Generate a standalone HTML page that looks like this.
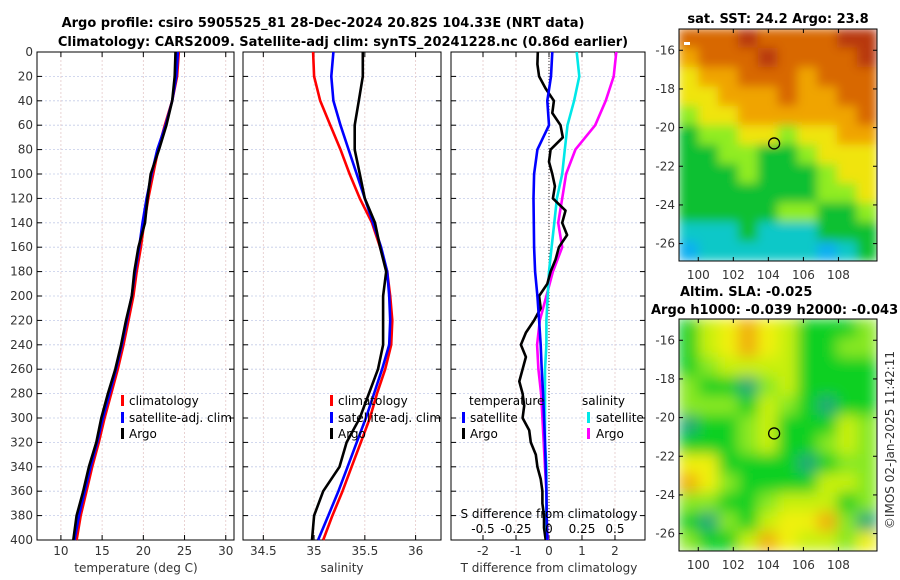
<!DOCTYPE html>
<html><head><meta charset="utf-8"><style>
html,body{margin:0;padding:0;background:#fff;}
svg{display:block;font-family:"DejaVu Sans","Liberation Sans",sans-serif;}
</style></head><body>
<svg id="chart" width="900" height="580" viewBox="0 0 900 580">
<defs>
<filter id="blur1" x="0" y="0" width="1" height="1"><feGaussianBlur stdDeviation="5"/></filter>
<filter id="blur2" x="0" y="0" width="1" height="1"><feGaussianBlur stdDeviation="7"/></filter>
<clipPath id="clipMap1"><rect x="679" y="29" width="198" height="232"/></clipPath>
<clipPath id="clipMap2"><rect x="679" y="319" width="198" height="232"/></clipPath>
</defs>
<text x="323" y="27" text-anchor="middle" font-size="13" font-weight="bold">Argo profile: csiro 5905525_81 28-Dec-2024 20.82S 104.33E (NRT data)</text>
<text x="343" y="46" text-anchor="middle" font-size="13" font-weight="bold">Climatology: CARS2009. Satellite-adj clim: synTS_20241228.nc (0.86d earlier)</text>
<g id="plots"></g>
</svg>
<script>
// ---- data ----
const depths = [0,20,40,60,80,100,120,140,160,180,200,220,240,260,280,300,320,340,360,380,400];
const depthTicks = [0,20,40,60,80,100,120,140,160,180,200,220,240,260,280,300,320,340,360,380,400];
const tClim = [24.3,24.1,23.5,22.6,21.8,21.2,20.6,20.1,19.7,19.2,18.8,18.2,17.6,16.9,16.1,15.3,14.6,13.8,13.1,12.4,11.9];
const tSat  = [24.2,24.0,23.5,22.7,21.7,21.0,20.4,19.9,19.5,19.0,18.6,18.0,17.4,16.7,15.9,15.1,14.4,13.6,12.9,12.2,11.65];
const tArgo = [23.9,23.8,23.5,22.8,21.9,20.9,20.5,20.2,19.4,18.9,18.6,17.9,17.3,16.6,15.7,14.9,14.3,13.4,12.7,11.9,11.5];
const sClim = [34.99,35.0,35.06,35.16,35.26,35.35,35.45,35.57,35.65,35.72,35.75,35.77,35.76,35.7,35.62,35.55,35.46,35.37,35.28,35.18,35.09];
const sSat  = [35.19,35.17,35.19,35.26,35.34,35.42,35.5,35.58,35.66,35.72,35.74,35.75,35.74,35.67,35.59,35.51,35.42,35.33,35.24,35.14,35.04];
const sArgo = [35.48,35.48,35.44,35.4,35.4,35.45,35.5,35.6,35.65,35.71,35.68,35.68,35.68,35.63,35.54,35.45,35.32,35.25,35.09,35.0,34.98];
const dTSat  = [0.1,0.06,-0.05,0,-0.35,-0.45,-0.47,-0.46,-0.45,-0.42,-0.35,-0.3,-0.25,-0.22,-0.18,-0.15,-0.12,-0.1,-0.08,-0.07,-0.05];
const dSSat  = [0.21,0.23,0.19,0.14,0.12,0.1,0.06,0.04,0.02,0.0,-0.01,-0.02,-0.02,-0.03,-0.03,-0.03,-0.03,-0.02,-0.02,-0.02,-0.02];
const dSArgo = [0.51,0.49,0.43,0.35,0.2,0.13,0.1,0.07,0.1,0.03,-0.02,-0.07,-0.09,-0.08,-0.06,-0.05,-0.04,-0.03,-0.02,-0.02,-0.01];
const depthsFine = [0,10,20,30,40,50,60,70,80,90,100,110,120,130,140,150,160,170,180,190,200,210,220,230,240,250,260,270,280,290,300,310,320,330,340,350,360,370,380,390,400];
const dTArgo = [-0.34,-0.35,-0.3,-0.1,0.15,0.1,0.35,0.42,0.05,0.0,0.1,0.18,0.12,0.5,0.4,0.55,0.3,0.2,0.05,-0.05,-0.3,-0.25,-0.45,-0.7,-0.85,-0.7,-0.8,-0.9,-0.8,-0.75,-0.8,-0.6,-0.55,-0.4,-0.35,-0.25,-0.2,-0.2,-0.15,-0.15,-0.1];
const tTicks = [10,15,20,25,30];
const sTicks = [34.5,35,35.5,36];
const dTTicks = [-2,-1,0,1,2];
const dSTicks = [-0.5,-0.25,0,0.25,0.5];
const dSTickLabels = ["-0.5","-0.25","0","0.25","0.5"];
const lonTicks = [100,102,104,106,108];
const latTicks = [-16,-18,-20,-22,-24,-26];
const sstGrid = [
[5,5,5,6,5,5,5,5,6,6],
[4,5,5,5,6,5,5,5,5,6],
[3,4,4,5,5,5,4,5,5,5],
[3,3,4,4,4,5,4,4,5,5],
[2,3,3,4,4,4,4,4,4,5],
[1,2,2,3,3,2,3,3,4,4],
[1,1,2,2,1,1,2,3,3,3],
[1,1,1,2,1,1,1,2,3,3],
[1,1,1,1,1,1,1,2,2,3],
[1,1,1,1,1,2,2,1,1,2],
[0,0,0,1,0,0,0,1,1,1],
[-1,0,0,0,0,0,0,-1,0,1]];
const slaGrid = [
[1,3,4,5,4,3,1,1,1,2],
[1,3,4,5,4,3,1,1,2,2],
[1,2,3,3,3,3,1,1,1,1],
[2,1,1,0,2,3,1,1,1,1],
[2,2,2,1,3,2,1,0,1,1],
[0,1,1,2,3,1,1,1,3,2],
[1,1,1,2,3,1,1,2,3,2],
[4,4,1,1,1,1,0,1,2,2],
[5,4,2,1,1,1,1,3,3,2],
[2,2,1,1,2,3,3,3,1,2],
[1,0,2,1,3,4,4,5,2,0],
[2,1,1,3,5,4,3,3,2,4]];
const argoLon = 104.33, argoLat = -20.82;

const NS = "http://www.w3.org/2000/svg";
const root = document.getElementById("plots");
function el(tag, attrs, parent){const e=document.createElementNS(NS,tag);for(const k in attrs)e.setAttribute(k,attrs[k]);(parent||root).appendChild(e);return e;}

const Y0=52, Y1=540;
const yD = d => Y0 + (d/400)*(Y1-Y0);
function lin(d0,d1,r0,r1){return v=>r0+(v-d0)/(d1-d0)*(r1-r0);}

function panel(name,x0,x1,xf,xticks,xlabels,showY){
  const g=el("g",{});
  
  
  depthTicks.forEach(d=>{const l=el("line",{x1:x0,x2:x1,y1:yD(d),y2:yD(d),stroke:"#c4cce8","stroke-width":0.8,"stroke-dasharray":"2,2"},g);
    
    });
  xticks.forEach((v,i)=>{const x=xf(v);
    const l=el("line",{x1:x,x2:x,y1:Y0,y2:Y1,stroke:"#e4c8c8","stroke-width":0.8,"stroke-dasharray":"2,2"},g);
    
    
    el("line",{x1:x,x2:x,y1:Y1,y2:Y1-5,stroke:"#000"},g);
    el("line",{x1:x,x2:x,y1:Y0,y2:Y0+5,stroke:"#000"},g);
    const t=el("text",{x:x,y:555,"text-anchor":"middle","font-size":12,fill:"#333"},g);t.textContent=xlabels[i];
    
    
  });
  depthTicks.forEach(d=>{
    el("line",{x1:x0,x2:x0+5,y1:yD(d),y2:yD(d),stroke:"#000"},g);
    el("line",{x1:x1,x2:x1-5,y1:yD(d),y2:yD(d),stroke:"#000"},g);
    if(showY){const t=el("text",{x:x0-4,y:yD(d)+4,"text-anchor":"end","font-size":12,fill:"#333"},g);t.textContent=d;
      
      }
  });
  const fr=el("rect",{x:x0,y:Y0,width:x1-x0,height:Y1-Y0,fill:"none",stroke:"#000","stroke-width":1},g);
  
  
  return g;
}
function line(g,name,xs,ds,xf,color){
  const pts=xs.map((v,i)=>xf(v).toFixed(1)+","+yD(ds[i]).toFixed(1)).join(" ");
  const p=el("polyline",{points:pts,fill:"none",stroke:color,"stroke-width":2.6,"stroke-linejoin":"round"},g);
  
  
}
function txt(g,name,x,y,s,opts){const t=el("text",Object.assign({x:x,y:y,"font-size":12,fill:"#000"},opts||{}),g);t.textContent=s;
  
  return t;}
function legMark(g,name,x,y,color){const r=el("rect",{x:x,y:y-10,width:3,height:11,fill:color},g);
  
  }

const xT=lin(7.1,31,37,234);
const g1=panel("temperature-panel",37,234,xT,tTicks,tTicks.map(String),true);
line(g1,"temp-climatology-line",tClim,depths,xT,"#ff0000");
line(g1,"temp-satellite-line",tSat,depths,xT,"#0000ff");
line(g1,"temp-argo-line",tArgo,depths,xT,"#000000");
txt(g1,"temp-x-axis-title",136,572,"temperature (deg C)",{"text-anchor":"middle",fill:"#333"});
legMark(g1,"legend-mark-climatology",121,405,"#ff0000");txt(g1,"legend-climatology",129,405,"climatology");
legMark(g1,"legend-mark-satellite",121,422,"#0000ff");txt(g1,"legend-satellite",129,422,"satellite-adj. clim");
legMark(g1,"legend-mark-argo",121,438,"#000");txt(g1,"legend-argo",129,438,"Argo");

const xS=lin(34.3,36.25,243,441);
const g2=panel("salinity-panel",243,441,xS,sTicks,sTicks.map(String),false);
line(g2,"sal-climatology-line",sClim,depths,xS,"#ff0000");
line(g2,"sal-satellite-line",sSat,depths,xS,"#0000ff");
line(g2,"sal-argo-line",sArgo,depths,xS,"#000000");
txt(g2,"sal-x-axis-title",342,572,"salinity",{"text-anchor":"middle",fill:"#333"});
legMark(g2,"legend-mark-climatology-2",330,405,"#ff0000");txt(g2,"legend-climatology-2",338,405,"climatology");
legMark(g2,"legend-mark-satellite-2",330,422,"#0000ff");txt(g2,"legend-satellite-2",338,422,"satellite-adj. clim");
legMark(g2,"legend-mark-argo-2",330,438,"#000");txt(g2,"legend-argo-2",338,438,"Argo");

const xDT=lin(-2.97,2.91,451,645);
const xDS=v=>xDT(v*4);
const g3=panel("difference-panel",451,645,xDT,dTTicks,dTTicks.map(String),false);
const zl=el("line",{x1:xDT(0),x2:xDT(0),y1:Y0,y2:Y1,stroke:"#333","stroke-width":1,"stroke-dasharray":"1,2"},g3);


line(g3,"dS-argo-line",dSArgo,depths,xDS,"#ff00ff");
line(g3,"dS-satellite-line",dSSat,depths,xDS,"#00e8e8");
line(g3,"dT-argo-line",dTArgo,depthsFine,xDT,"#000000");
line(g3,"dT-satellite-line",dTSat,depths,xDT,"#0000ff");
txt(g3,"dT-x-axis-title",549,572,"T difference from climatology",{"text-anchor":"middle",fill:"#333"});
txt(g3,"dS-axis-title",549,518,"S difference from climatology",{"text-anchor":"middle",fill:"#000"});
dSTicks.forEach((v,i)=>txt(g3,"dS-tick-label",xDS(v),533,dSTickLabels[i],{"text-anchor":"middle",fill:"#000"}));
txt(g3,"legend-temperature-heading",469,405,"temperature");
legMark(g3,"legend-mark-t-satellite",462,422,"#0000ff");txt(g3,"legend-t-satellite",470,422,"satellite");
legMark(g3,"legend-mark-t-argo",462,438,"#000");txt(g3,"legend-t-argo",470,438,"Argo");
txt(g3,"legend-salinity-heading",582,405,"salinity");
legMark(g3,"legend-mark-s-satellite",587,422,"#00e8e8");txt(g3,"legend-s-satellite",596,422,"satellite");
legMark(g3,"legend-mark-s-argo",587,438,"#ff00ff");txt(g3,"legend-s-argo",596,438,"Argo");

const sstColors={"-1":"#10b0f0","0":"#10c8c8","1":"#10c030","2":"#90ec20","3":"#f0e410","4":"#f0a400","5":"#d86800","6":"#b83808"};
const slaColors={"0":"#20a878","1":"#10d020","2":"#88e820","3":"#c8f010","4":"#f0f010","5":"#f0b010"};
function map(name,top,grid,colors,blurId,clipId){
  const g=el("g",{});
  
  
  const xL=lin(98.9,110.2,679,877), yL=lin(-14.9,-26.9,top,top+232);
  const cg=el("g",{"clip-path":"url(#"+clipId+")"},g);
  const ig=el("g",{filter:"url(#"+blurId+")"},cg);
  const rows=grid.length, cols=grid[0].length, cw=198/cols, ch=232/rows;
  el("rect",{x:679,y:top,width:198,height:232,fill:colors["1"]},ig);
  grid.forEach((row,r)=>row.forEach((v,c)=>{
    const cell=el("rect",{x:679+c*cw-0.5,y:top+r*ch-0.5,width:cw+1,height:ch+1,fill:colors[String(v)]},ig);
    
    
  }));
  const fr=el("rect",{x:679,y:top,width:198,height:232,fill:"none",stroke:"#000"},g);
  
  
  lonTicks.forEach(v=>{const x=xL(v);el("line",{x1:x,x2:x,y1:top+232,y2:top+228,stroke:"#000"},g);el("line",{x1:x,x2:x,y1:top,y2:top+4,stroke:"#000"},g);
    txt(g,"lon-tick-label",x,top+250,String(v),{"text-anchor":"middle",fill:"#333"});});
  latTicks.forEach(v=>{const y=yL(v);el("line",{x1:679,x2:683,y1:y,y2:y,stroke:"#000"},g);el("line",{x1:877,x2:873,y1:y,y2:y,stroke:"#000"},g);
    txt(g,"lat-tick-label",675,y+4,String(v),{"text-anchor":"end",fill:"#333"});});
  const c=el("circle",{cx:xL(argoLon),cy:yL(argoLat),r:5.5,fill:"none",stroke:"#000","stroke-width":1.3},g);
  
  
  return g;
}
const m1=map("sst-map",29,sstGrid,sstColors,"blur1","clipMap1");
const wb=el("rect",{x:684,y:42,width:6,height:3,fill:"#fff"},m1);
txt(m1,"sst-map-title",778,23,"sat. SST: 24.2 Argo: 23.8",{"text-anchor":"middle","font-weight":"bold","font-size":13});
const m2=map("sla-map",319,slaGrid,slaColors,"blur2","clipMap2");
txt(m2,"sla-map-title",680,296,"Altim. SLA: -0.025",{"font-weight":"bold","font-size":13});
txt(m2,"sla-map-subtitle",651,314,"Argo h1000: -0.039 h2000: -0.043",{"font-weight":"bold","font-size":13});
const im=txt(root,"imos-timestamp",0,0,"\u00a9IMOS 02-Jan-2025 11:42:11",{"text-anchor":"middle",fill:"#333","transform":"translate(894,440) rotate(-90)"});
</script>
</body></html>
